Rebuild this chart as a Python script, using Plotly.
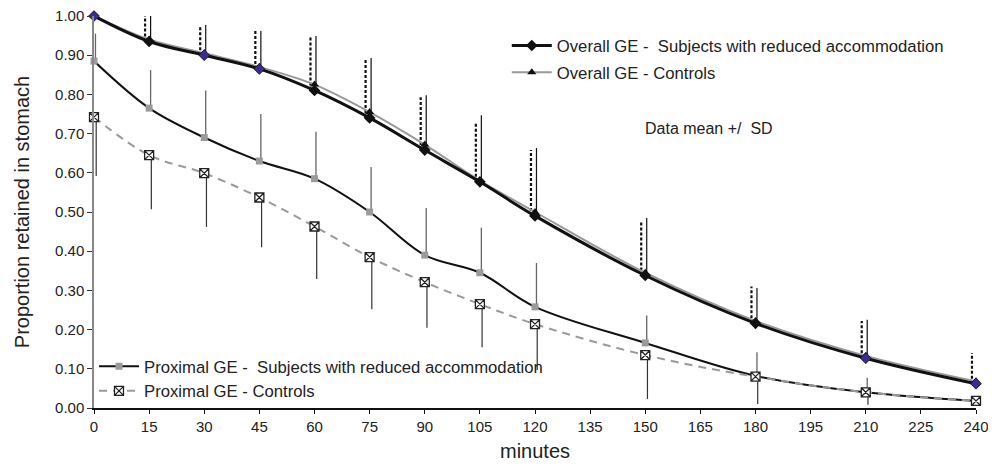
import plotly.graph_objects as go

minutes = [0, 15, 30, 45, 60, 75, 90, 105, 120, 150, 180, 210, 240]

overall_subj = [1.00, 0.935, 0.900, 0.865, 0.810, 0.740, 0.658, 0.577, 0.490, 0.338, 0.216, 0.127, 0.062]
overall_subj_sd = [0.0, 0.070, 0.074, 0.100, 0.140, 0.148, 0.135, 0.153, 0.168, 0.137, 0.094, 0.095, 0.078]

overall_ctrl = [1.00, 0.940, 0.905, 0.870, 0.825, 0.755, 0.672, 0.580, 0.500, 0.345, 0.222, 0.133, 0.068]
overall_ctrl_sd = [0.0, 0.060, 0.072, 0.092, 0.124, 0.138, 0.126, 0.167, 0.163, 0.140, 0.084, 0.092, 0.067]

prox_subj = [0.885, 0.765, 0.690, 0.630, 0.585, 0.500, 0.390, 0.345, 0.258, 0.166, 0.082, 0.040, 0.018]
prox_subj_sd = [0.070, 0.097, 0.120, 0.120, 0.120, 0.115, 0.120, 0.115, 0.112, 0.070, 0.060, 0.037, 0.025]

prox_ctrl = [0.742, 0.645, 0.599, 0.537, 0.463, 0.385, 0.321, 0.265, 0.214, 0.135, 0.080, 0.040, 0.018]
prox_ctrl_sd = [0.150, 0.138, 0.137, 0.127, 0.134, 0.133, 0.116, 0.110, 0.117, 0.112, 0.070, 0.032, 0.013]

purple_idx = [0, 2, 3, 11, 12]

FONT = "Liberation Sans, Arial, Helvetica, sans-serif"
TXT = "#222222"


def bars(xs, ys, sd, up=True, dx=0.0):
    bx, by = [], []
    for x, y, s in zip(xs, ys, sd):
        if s <= 0:
            continue
        bx += [x + dx, x + dx, None]
        by += [y, y + s if up else y - s, None]
    return bx, by


fig = go.Figure()

# error bars
ex, ey = bars(minutes, prox_subj, prox_subj_sd, up=True, dx=0.4)
fig.add_trace(go.Scatter(x=ex, y=ey, mode="lines", line=dict(color="#666666", width=1.3),
                         showlegend=False, hoverinfo="skip", cliponaxis=False))
ex, ey = bars(minutes, prox_ctrl, prox_ctrl_sd, up=False, dx=0.6)
fig.add_trace(go.Scatter(x=ex, y=ey, mode="lines", line=dict(color="#333333", width=1.2),
                         showlegend=False, hoverinfo="skip", cliponaxis=False))
ex, ey = bars(minutes, overall_subj, overall_subj_sd, up=True, dx=-1.1)
fig.add_trace(go.Scatter(x=ex, y=ey, mode="lines", line=dict(color="#111111", width=2.2, dash="3px,2px"),
                         showlegend=False, hoverinfo="skip", cliponaxis=False))
ex, ey = bars(minutes, overall_ctrl, overall_ctrl_sd, up=True, dx=0.4)
fig.add_trace(go.Scatter(x=ex, y=ey, mode="lines", line=dict(color="#111111", width=1.2),
                         showlegend=False, hoverinfo="skip", cliponaxis=False))

# proximal
fig.add_trace(go.Scatter(
    x=minutes, y=prox_subj, mode="lines+markers",
    name="Proximal GE -  Subjects with reduced accommodation",
    line=dict(color="#111111", width=2, shape="spline", smoothing=1.0),
    marker=dict(symbol="square", size=7, color="#9a9a9a"),
    legend="legend2", legendgroup="p1", legendrank=1, cliponaxis=False))
fig.add_trace(go.Scatter(
    x=minutes, y=prox_ctrl, mode="lines+markers",
    name="Proximal GE - Controls",
    line=dict(color="#9a9a9a", width=2, dash="8px,6px", shape="spline", smoothing=1.0),
    marker=dict(symbol="square-x", size=9, color="white", line=dict(color="#222222", width=1.3)),
    legend="legend2", legendgroup="p2", legendrank=2, cliponaxis=False))

# overall
fig.add_trace(go.Scatter(
    x=minutes, y=overall_ctrl, mode="lines+markers",
    name="Overall GE - Controls",
    line=dict(color="#999999", width=2, shape="spline", smoothing=1.0),
    marker=dict(symbol="triangle-up", size=8, color="#111111"),
    legend="legend", legendgroup="o2", legendrank=2, cliponaxis=False))
fig.add_trace(go.Scatter(
    x=minutes, y=overall_subj, mode="lines+markers",
    name="Overall GE -  Subjects with reduced accommodation",
    line=dict(color="#111111", width=3, shape="spline", smoothing=1.0),
    marker=dict(symbol="diamond", size=9, color="#111111"),
    legend="legend", legendgroup="o1", legendrank=1, cliponaxis=False))
fig.add_trace(go.Scatter(
    x=[minutes[i] for i in purple_idx], y=[overall_subj[i] for i in purple_idx],
    mode="markers", marker=dict(symbol="diamond", size=8, color="#3d2c8d"),
    showlegend=False, hoverinfo="skip", cliponaxis=False))

fig.add_annotation(x=0.622, y=0.714, xref="paper", yref="paper", xanchor="left", yanchor="middle",
                   text="Data mean +/  SD", showarrow=False, font=dict(family=FONT, size=16, color=TXT))

fig.update_layout(
    width=988, height=459,
    margin=dict(l=86, r=20, t=8, b=59),
    paper_bgcolor="white", plot_bgcolor="white",
    font=dict(family=FONT, size=15, color=TXT),
    legend=dict(x=0.468, y=0.969, xanchor="left", yanchor="top", bgcolor="rgba(0,0,0,0)",
                font=dict(family=FONT, size=16.7, color=TXT), traceorder="grouped",
                tracegroupgap=2, itemwidth=40),
    legend2=dict(x=0.0, y=0.151, xanchor="left", yanchor="top", bgcolor="rgba(0,0,0,0)",
                 font=dict(family=FONT, size=16.7, color=TXT), traceorder="grouped",
                 tracegroupgap=0, itemwidth=40),
    xaxis=dict(range=[0, 240], tickmode="array", tickvals=list(range(0, 241, 15)),
               showgrid=False, zeroline=False, showline=True, linecolor="#111111", linewidth=2,
               ticks="outside", ticklen=4, tickcolor="#111111", automargin=False,
               ticklabeloverflow="allow",
               tickfont=dict(family=FONT, size=15, color=TXT),
               title=dict(text="minutes", font=dict(family=FONT, size=20, color=TXT), standoff=10)),
    yaxis=dict(range=[0, 1.0], dtick=0.1, tickformat=".2f",
               showgrid=False, zeroline=False, showline=True, linecolor="#888888", linewidth=1.5,
               ticks="outside", ticklen=5, tickcolor="#333333", automargin=False,
               ticklabeloverflow="allow",
               tickfont=dict(family=FONT, size=15, color=TXT),
               title=dict(text="Proportion retained in stomach", font=dict(family=FONT, size=20, color=TXT),
                          standoff=20)),
)

fig.write_html("out.html")
